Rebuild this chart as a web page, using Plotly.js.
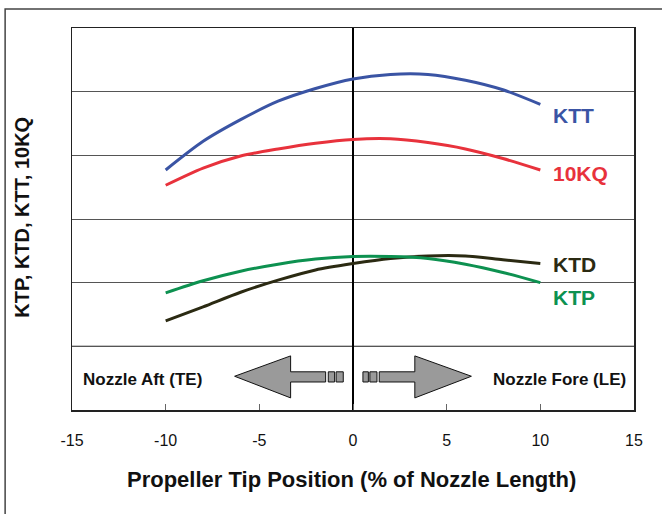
<!DOCTYPE html>
<html>
<head>
<meta charset="utf-8">
<script src="https://cdn.plot.ly/plotly-3.0.1.min.js"></script>
<style>
html,body{margin:0;padding:0;background:#fff;}
#chart{width:662px;height:514px;}
</style>
</head>
<body>
<div id="chart"></div>
<script>
// Propeller tip position (% of nozzle length)
const xPos = [-10, -8, -6, -4, -2, 0, 2, 4, 6, 8, 10];
const KTT  = [3.77, 4.22, 4.56, 4.85, 5.05, 5.20, 5.27, 5.27, 5.18, 5.03, 4.80];
const KQ10 = [3.53, 3.80, 3.99, 4.10, 4.19, 4.25, 4.26, 4.20, 4.10, 3.95, 3.77];
const KTD  = [1.40, 1.62, 1.85, 2.04, 2.20, 2.30, 2.38, 2.42, 2.42, 2.36, 2.30];
const KTP  = [1.84, 2.03, 2.18, 2.29, 2.37, 2.41, 2.41, 2.38, 2.29, 2.16, 2.00];
const seriesNames = ["KTT", "10KQ", "KTD", "KTP"];
const xTicks = [-15, -10, -5, 0, 5, 10, 15];

const colors = {KTT:"#3a54a4", "10KQ":"#e8323c", KTD:"#2b2a12", KTP:"#0d9150"};
const labelY = {KTT:4.63, "10KQ":3.72, KTD:2.28, KTP:1.77};
const dataBy = {KTT:KTT, "10KQ":KQ10, KTD:KTD, KTP:KTP};

const FONT = "Liberation Sans, Arial, sans-serif";

const traces = seriesNames.map(n => ({
  x: xPos, y: dataBy[n], type: "scatter", mode: "lines", name: n,
  line: {color: colors[n], width: 3, shape: "spline", smoothing: 0.8},
  hoverinfo: "skip"
}));

const annotations = seriesNames.map(n => ({
  x: 10.55, y: labelY[n], xref: "x", yref: "y", text: "<b>" + n + "</b>",
  showarrow: false, xanchor: "left", yanchor: "middle",
  font: {family: FONT, size: 21, color: colors[n]}
}));
annotations.push({
  x: -14.5, y: 0.48, xref: "x", yref: "y", text: "<b>Nozzle Aft (TE)</b>",
  showarrow: false, xanchor: "left", yanchor: "middle",
  font: {family: FONT, size: 17, color: "#111"}
});
annotations.push({
  x: 14.7, y: 0.48, xref: "x", yref: "y", text: "<b>Nozzle Fore (LE)</b>",
  showarrow: false, xanchor: "right", yanchor: "middle",
  font: {family: FONT, size: 17, color: "#111"}
});
// axis titles
annotations.push({
  x: 0.498, y: -0.183, xref: "paper", yref: "paper",
  text: "<b>Propeller Tip Position (% of Nozzle Length)</b>",
  showarrow: false, xanchor: "center", yanchor: "middle",
  font: {family: FONT, size: 22, color: "#111"}
});
annotations.push({
  x: -0.088, y: 0.505, xref: "paper", yref: "paper",
  text: "<b>KTP, KTD, KTT, 10KQ</b>", textangle: -90,
  showarrow: false, xanchor: "center", yanchor: "middle",
  font: {family: FONT, size: 20, color: "#111"}
});

const arrowStyle = {fillcolor: "#9a9a9a", line: {color: "#111", width: 1}, layer: "above"};
const shapes = [
  // left arrow
  Object.assign({type: "path", xref: "x", yref: "y",
    path: "M -6.32 0.53 L -3.33 0.85 L -3.33 0.60 L -1.46 0.60 L -1.46 0.44 L -3.33 0.44 L -3.33 0.19 Z"}, arrowStyle),
  Object.assign({type: "rect", xref: "x", yref: "y", x0: -1.32, x1: -0.98, y0: 0.44, y1: 0.60}, arrowStyle),
  Object.assign({type: "rect", xref: "x", yref: "y", x0: -0.90, x1: -0.52, y0: 0.44, y1: 0.60}, arrowStyle),
  // right arrow
  Object.assign({type: "path", xref: "x", yref: "y",
    path: "M 6.32 0.53 L 3.30 0.85 L 3.30 0.60 L 1.40 0.60 L 1.40 0.44 L 3.30 0.44 L 3.30 0.19 Z"}, arrowStyle),
  Object.assign({type: "rect", xref: "x", yref: "y", x0: 0.53, x1: 0.82, y0: 0.44, y1: 0.60}, arrowStyle),
  Object.assign({type: "rect", xref: "x", yref: "y", x0: 0.90, x1: 1.28, y0: 0.44, y1: 0.60}, arrowStyle),
  // lighter lowest gridline
  {type: "line", xref: "paper", yref: "y", x0: 0, x1: 1, y0: 1, y1: 1,
   line: {color: "#8a8a8a", width: 1.5}, layer: "below"},
  // outer frame
  {type: "rect", xref: "paper", yref: "paper", x0: -0.119, x1: 1.3, y0: -0.5, y1: 1.0497,
   line: {color: "#444", width: 1.5}, fillcolor: "rgba(0,0,0,0)", layer: "below"}
];

const layout = {
  width: 662, height: 514,
  margin: {l: 72, r: 28, t: 28, b: 104},
  paper_bgcolor: "#fff", plot_bgcolor: "#fff",
  showlegend: false,
  font: {family: FONT, color: "#111"},
  xaxis: {
    range: [-15, 15], tickvals: xTicks, ticktext: xTicks.map(String),
    showgrid: false, zeroline: true, zerolinecolor: "#000", zerolinewidth: 2.5,
    showline: true, linecolor: "#222", linewidth: 1.5, mirror: true,
    ticks: "inside", ticklen: 6, tickcolor: "#666", tickwidth: 1,
    ticklabelstandoff: 15,
    tickfont: {family: FONT, size: 16, color: "#111"},
    fixedrange: true
  },
  yaxis: {
    range: [0, 6], dtick: 1, tick0: 0, showticklabels: false,
    showgrid: true, gridcolor: "#555", gridwidth: 1, zeroline: false,
    showline: true, linecolor: "#222", linewidth: 1.5, mirror: true, ticks: "",
    fixedrange: true
  },
  shapes: shapes,
  annotations: annotations
};

Plotly.newPlot("chart", traces, layout, {displayModeBar: false, staticPlot: true});
</script>
</body>
</html>
